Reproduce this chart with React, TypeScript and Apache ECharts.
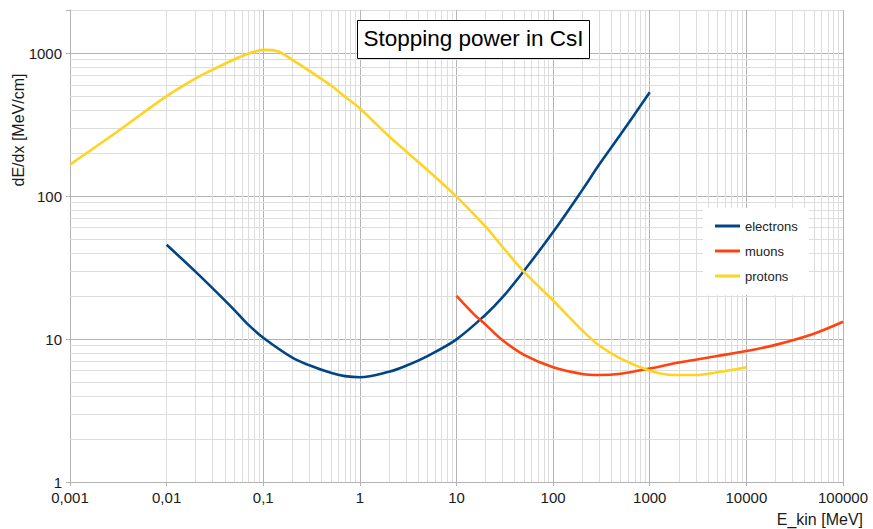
import React, { useEffect, useRef } from 'react';
import * as echarts from 'echarts';

// Kinetic energy [MeV] and stopping power dE/dx [MeV/cm]
const electronE = [0.01, 0.02, 0.03, 0.05, 0.07, 0.1, 0.2, 0.3, 0.5, 0.7, 1, 2, 3, 5, 10, 20, 30, 50, 100, 200, 300, 500, 1000];
const electronDEdx = [45.6, 29.5, 22.6, 16.0, 12.6, 10.2, 7.4, 6.55, 5.8, 5.5, 5.4, 5.9, 6.5, 7.6, 9.95, 14.8, 19.6, 30.0, 56, 110, 166, 270, 532];

const muonE = [10, 15, 20, 30, 50, 100, 200, 300, 500, 1000, 2000, 5000, 10000, 20000, 50000, 100000];
const muonDEdx = [20, 15.0, 12.6, 9.8, 7.75, 6.35, 5.7, 5.6, 5.72, 6.22, 6.85, 7.6, 8.24, 9.1, 10.9, 13.2];

const protonE = [0.001, 0.003, 0.01, 0.02, 0.03, 0.05, 0.07, 0.1, 0.14, 0.2, 0.3, 0.5, 0.7, 1, 2, 3, 5, 10, 20, 30, 50, 100, 200, 300, 500, 1000, 1500, 2000, 3000, 5000, 10000];
const protonDEdx = [166, 278, 500, 665, 766, 902, 988, 1052, 1030, 895, 750, 595, 495, 410, 262, 206, 152, 99, 61, 44, 29.5, 18.6, 11.5, 9.0, 7.3, 6.0, 5.65, 5.6, 5.6, 5.85, 6.35];

const seriesNames = ['electrons', 'muons', 'protons'];
const seriesColors = ['#004586', '#ff420e', '#ffd320'];

const xTickLabels = ['0,001', '0,01', '0,1', '1', '10', '100', '1000', '10000', '100000'];
const yTickLabels = ['1', '10', '100', '1000'];

const titleText = 'Stopping power in CsI';
const xName = 'E_kin [MeV]';
const yName = 'dE/dx [MeV/cm]';

const FONT = 'Liberation Sans, Arial, sans-serif';

function zip(a: number[], b: number[]) {
  return a.map((v, i) => [v, b[i]]);
}

function decadeExp(v: number): number | null {
  const l = Math.log10(v);
  const r = Math.round(l);
  return Math.abs(l - r) < 1e-6 ? r : null;
}

// minor grid positions (2..9 within each decade)
function minorValues(fromExp: number, toExp: number): number[] {
  const out: number[] = [];
  for (let e = fromExp; e < toExp; e++) {
    for (let k = 2; k <= 9; k++) out.push(k * Math.pow(10, e));
  }
  return out;
}

export default function App() {
  const ref = useRef<HTMLDivElement>(null);
  useEffect(() => {
    if (!ref.current) return;
    const chart = echarts.init(ref.current, undefined, { renderer: 'svg' });
    const minorX = minorValues(-3, 5);
    const minorY = minorValues(0, 3);
    const gridMarks = [
      ...minorX.map((v) => ({ xAxis: v })),
      ...minorY.map((v) => ({ yAxis: v })),
    ];
    const datasets = [zip(electronE, electronDEdx), zip(muonE, muonDEdx), zip(protonE, protonDEdx)];
    const series: any[] = seriesNames.map((name, i) => ({
      name,
      type: 'line',
      data: datasets[i],
      symbol: 'none',
      showSymbol: false,
      smooth: 0.35,
      z: 3,
      lineStyle: { width: 2.6, color: seriesColors[i] },
      itemStyle: { color: seriesColors[i] },
      emphasis: { disabled: true },
      ...(i === 2
        ? {
            markLine: {
              silent: true,
              z: 1,
              symbol: ['none', 'none'],
              label: { show: false },
              emphasis: { disabled: true },
              animation: false,
              lineStyle: { color: '#dddddd', width: 1, type: 'solid' },
              data: gridMarks,
            },
          }
        : {}),
    }));

    chart.setOption({
      animation: false,
      grid: { left: 70, right: 30, top: 10, bottom: 47, containLabel: false },
      xAxis: {
        type: 'log',
        logBase: 10,
        min: 0.001,
        max: 100000,
        axisLine: { show: true, lineStyle: { color: '#b3b3b3', width: 1 } },
        axisTick: { show: true, length: 4, lineStyle: { color: '#b3b3b3' } },
        splitLine: { show: true, lineStyle: { color: '#b3b3b3', width: 1 } },
        axisLabel: {
          margin: 8,
          fontFamily: FONT,
          fontSize: 15,
          color: '#1a1a1a',
          formatter: (v: number) => {
            const e = decadeExp(v);
            return e === null ? '' : xTickLabels[e + 3] ?? '';
          },
        },
      },
      yAxis: {
        type: 'log',
        logBase: 10,
        min: 1,
        max: 2000,
        axisLine: { show: true, lineStyle: { color: '#b3b3b3', width: 1 } },
        axisTick: { show: true, length: 4, lineStyle: { color: '#b3b3b3' } },
        splitLine: {
          show: true,
          lineStyle: { color: ['#b3b3b3', '#b3b3b3', '#b3b3b3', '#b3b3b3', '#dddddd'], width: 1 },
        },
        axisLabel: {
          margin: 8,
          fontFamily: FONT,
          fontSize: 15,
          color: '#1a1a1a',
          formatter: (v: number) => {
            const e = decadeExp(v);
            return e === null ? '' : yTickLabels[e] ?? '';
          },
        },
      },
      legend: {
        data: seriesNames,
        orient: 'vertical',
        left: 703,
        top: 208,
        padding: [11.5, 11, 12.5, 12],
        itemGap: 12,
        itemWidth: 25,
        itemHeight: 3,
        icon: 'rect',
        backgroundColor: '#ffffff',
        selectedMode: false,
        textStyle: { fontFamily: FONT, fontSize: 13, color: '#222' },
      },
      graphic: [
        {
          type: 'rect',
          z: 100,
          shape: { x: 357.5, y: 20.5, width: 232, height: 38 },
          style: { fill: '#ffffff', stroke: '#000000', lineWidth: 1 },
        },
        {
          type: 'text',
          z: 101,
          x: 473.5,
          y: 38.5,
          style: {
            text: titleText,
            fill: '#000',
            fontFamily: FONT,
            fontSize: 22.5,
            textAlign: 'center',
            textVerticalAlign: 'middle',
            align: 'center',
            verticalAlign: 'middle',
          },
        },
        {
          type: 'text',
          z: 101,
          x: 18,
          y: 130,
          rotation: Math.PI / 2,
          style: {
            text: yName,
            fill: '#1a1a1a',
            fontFamily: FONT,
            fontSize: 16,
            textAlign: 'center',
            textVerticalAlign: 'middle',
            align: 'center',
            verticalAlign: 'middle',
          },
        },
        {
          type: 'text',
          z: 101,
          x: 863,
          y: 519,
          style: {
            text: xName,
            fill: '#1a1a1a',
            fontFamily: FONT,
            fontSize: 16,
            textAlign: 'right',
            textVerticalAlign: 'middle',
            align: 'right',
            verticalAlign: 'middle',
          },
        },
      ],
      series,
    });
    return () => {
      chart.dispose();
    };
  }, []);
  return <div ref={ref} style={{ position: 'absolute', left: 0, top: 0, width: 873, height: 529 }} />;
}
